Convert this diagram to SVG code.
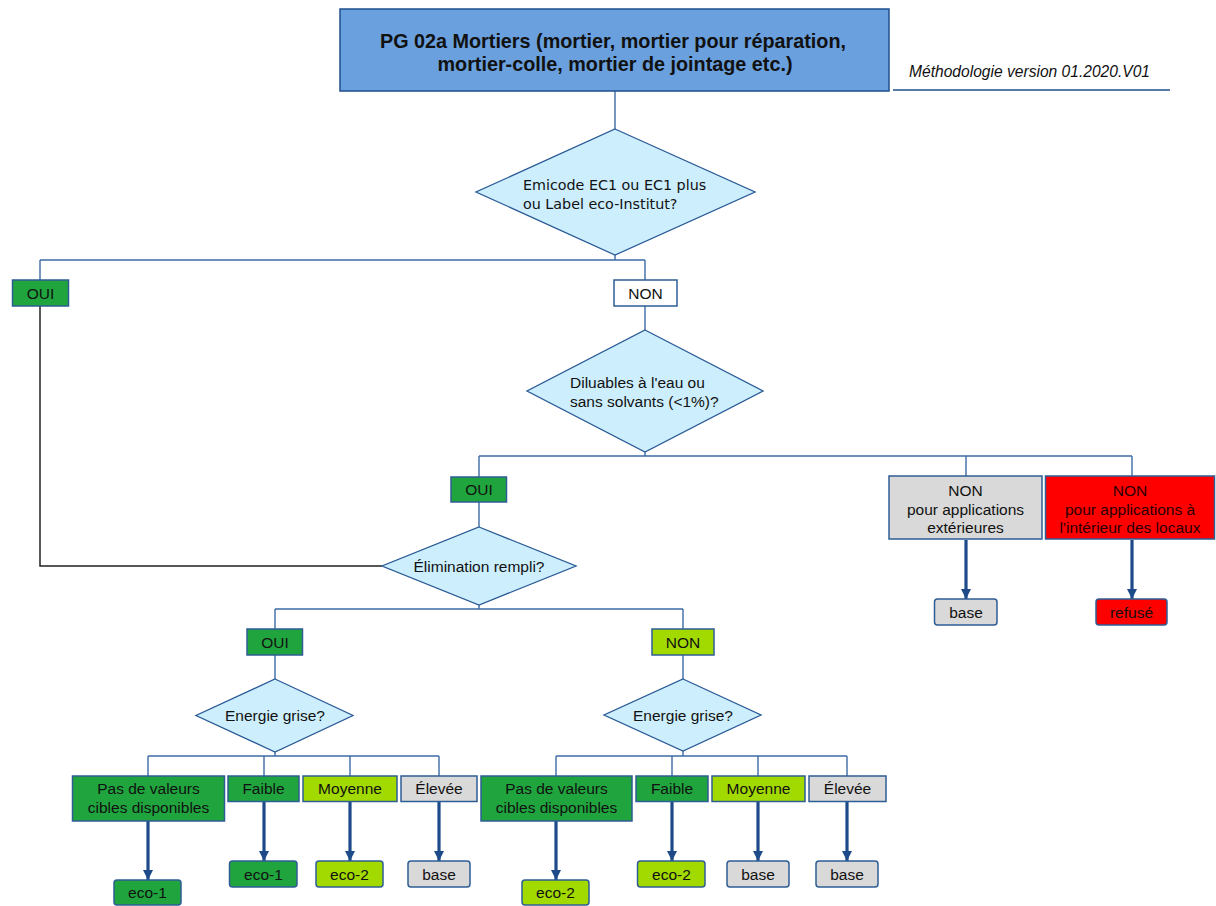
<svg xmlns="http://www.w3.org/2000/svg" width="1216" height="906" viewBox="0 0 1216 906">
<style>
text{font-family:"Liberation Sans",Arial,sans-serif;font-size:15.5px;fill:#111;}
.t{text-anchor:middle;}
.title{font-weight:bold;font-size:19.8px;text-anchor:middle;}
.dia{fill:#cdeefd;stroke:#2a5a96;stroke-width:1.3;}
.box{stroke:#2e5d95;stroke-width:1.5;}
.g{fill:#20a53e;}
.lg{fill:#a2da00;}
.gr{fill:#d9d9d9;}
.rd{fill:#ff0000;}
.wh{fill:#ffffff;}
.c{fill:none;stroke:#3d6ca5;stroke-width:1.4;}
.k{fill:none;stroke:#222;stroke-width:1.5;}
.a{fill:none;stroke:#1d4b8a;stroke-width:3.2;marker-end:url(#ah);}
</style>
<defs>
<marker id="ah" markerUnits="userSpaceOnUse" markerWidth="11" markerHeight="10" viewBox="0 0 10 10" refX="10" refY="5" orient="auto">
<path d="M0,0 L10,5 L0,10 z" fill="#1d4b8a"/>
</marker>
</defs>
<rect width="1216" height="906" fill="#ffffff"/>

<g id="connectors">
<path class="c" d="M615,91 V129"/>
<path class="c" d="M615,255 V260 M40,260 H645 M40,260 V280 M645,260 V280"/>
<path class="c" d="M645,306 V330"/>
<path class="c" d="M645,452 V456 M479,456 H1132 M479,456 V477 M966,456 V476 M1132,456 V476"/>
<path class="c" d="M479,502 V527"/>
<path class="k" d="M40,306 V566 H382"/>
<path class="c" d="M479,605 V609 M275,609 H683 M275,609 V629 M683,609 V629"/>
<path class="c" d="M275,655 V679 M683,655 V679"/>
<path class="c" d="M275,752 V756 M148,756 H439 M148,756 V776 M264,756 V776 M350,756 V776 M439,756 V776"/>
<path class="c" d="M683,751 V756 M556,756 H847 M556,756 V776 M672,756 V776 M758,756 V776 M847,756 V776"/>
<path class="a" d="M966,540 V599"/>
<path class="a" d="M1132,540 V599"/>
<path class="a" d="M148,821 V880"/>
<path class="a" d="M264,801 V861"/>
<path class="a" d="M350,801 V861"/>
<path class="a" d="M439,801 V861"/>
<path class="a" d="M556,821 V880"/>
<path class="a" d="M672,801 V861"/>
<path class="a" d="M758,801 V861"/>
<path class="a" d="M847,801 V861"/>
</g>

<g id="title">
<rect x="340" y="9" width="549" height="82" fill="#6aa0dd" stroke="#1f4f8c" stroke-width="1.5"/>
<text class="title" x="613" y="48">PG 02a Mortiers (mortier, mortier pour réparation,</text>
<text class="title" x="615" y="71">mortier-colle, mortier de jointage etc.)</text>
</g>

<g id="version">
<text x="909" y="77" style="font-style:italic;font-size:15.6px">Méthodologie version 01.2020.V01</text>
<path d="M893,90 H1170" stroke="#1f4f8c" stroke-width="1.3"/>
</g>

<g id="q1">
<polygon class="dia" points="615,129 755,192 615,255 476,192"/>
<text x="523" y="190" style="font-family:'DejaVu Sans',Verdana,sans-serif;font-size:14.3px">Emicode EC1 ou EC1 plus</text>
<text x="523" y="209" style="font-family:'DejaVu Sans',Verdana,sans-serif;font-size:14.3px">ou Label eco-Institut?</text>
</g>

<g id="oui1">
<rect class="box g" x="12.5" y="280" width="56" height="26"/>
<text class="t" x="40.5" y="298.5">OUI</text>
</g>

<g id="non1">
<rect class="box wh" x="614" y="280" width="63" height="26"/>
<text class="t" x="645.5" y="298.5">NON</text>
</g>

<g id="q2">
<polygon class="dia" points="645,330 763,391 645,452 527,391"/>
<text x="570" y="388">Diluables à l'eau ou</text>
<text x="570" y="407">sans solvants (&lt;1%)?</text>
</g>

<g id="oui2">
<rect class="box g" x="451" y="477" width="55.5" height="25"/>
<text class="t" x="479" y="495">OUI</text>
</g>

<g id="non-ext">
<rect class="box gr" x="889" y="476" width="153" height="63"/>
<text class="t" x="965.5" y="495.5">NON</text>
<text class="t" x="965.5" y="514.5">pour applications</text>
<text class="t" x="965.5" y="533">extérieures</text>
</g>

<g id="non-int">
<rect class="box rd" x="1045.5" y="476" width="169" height="63"/>
<text class="t" x="1130" y="495.5" style="fill:#2a0000">NON</text>
<text class="t" x="1130" y="514.5" style="fill:#2a0000">pour applications à</text>
<text class="t" x="1130" y="533" style="fill:#2a0000">l'intérieur des locaux</text>
</g>

<g id="base-ext">
<rect class="box gr" x="934.5" y="599" width="62.5" height="26" rx="3"/>
<text class="t" x="966" y="617.5">base</text>
</g>

<g id="refuse">
<rect class="box rd" x="1096" y="599" width="71" height="26" rx="3"/>
<text class="t" x="1131.5" y="617.5">refusé</text>
</g>

<g id="q3">
<polygon class="dia" points="479,527 576,566 479,605 382,566"/>
<text class="t" x="479" y="571.5">Élimination rempli?</text>
</g>

<g id="oui3">
<rect class="box g" x="247" y="629" width="55.5" height="26"/>
<text class="t" x="275" y="647.5">OUI</text>
</g>

<g id="non3">
<rect class="box lg" x="652" y="629" width="62" height="26"/>
<text class="t" x="683" y="647.5">NON</text>
</g>

<g id="q4">
<polygon class="dia" points="275,679 353,715.5 275,752 196,715.5"/>
<text class="t" x="275" y="721">Energie grise?</text>
</g>

<g id="q5">
<polygon class="dia" points="683,679 761,715 683,751 604,715"/>
<text class="t" x="683" y="720.5">Energie grise?</text>
</g>

<g id="l-pas">
<rect class="box g" x="72.5" y="776" width="152" height="45"/>
<text class="t" x="148.5" y="794">Pas de valeurs</text>
<text class="t" x="148.5" y="812.5">cibles disponibles</text>
</g>
<g id="l-faible">
<rect class="box g" x="228" y="776" width="71" height="25.5"/>
<text class="t" x="263.5" y="794">Faible</text>
</g>
<g id="l-moy">
<rect class="box lg" x="303" y="776" width="94" height="25.5"/>
<text class="t" x="350" y="794">Moyenne</text>
</g>
<g id="l-elev">
<rect class="box gr" x="401" y="776" width="76" height="25.5"/>
<text class="t" x="439" y="794">Élevée</text>
</g>

<g id="r-pas">
<rect class="box g" x="481" y="776" width="151" height="45"/>
<text class="t" x="556.5" y="794">Pas de valeurs</text>
<text class="t" x="556.5" y="812.5">cibles disponibles</text>
</g>
<g id="r-faible">
<rect class="box g" x="636" y="776" width="72" height="25.5"/>
<text class="t" x="672" y="794">Faible</text>
</g>
<g id="r-moy">
<rect class="box lg" x="712" y="776" width="93" height="25.5"/>
<text class="t" x="758.5" y="794">Moyenne</text>
</g>
<g id="r-elev">
<rect class="box gr" x="809" y="776" width="77" height="25.5"/>
<text class="t" x="847.5" y="794">Élevée</text>
</g>

<g id="res-l1">
<rect class="box g" x="114" y="880" width="67" height="25" rx="3"/>
<text class="t" x="147.5" y="898">eco-1</text>
</g>
<g id="res-l2">
<rect class="box g" x="229.5" y="861" width="67.5" height="26" rx="3"/>
<text class="t" x="263.5" y="879.5">eco-1</text>
</g>
<g id="res-l3">
<rect class="box lg" x="316" y="861" width="67" height="26" rx="3"/>
<text class="t" x="349.5" y="879.5">eco-2</text>
</g>
<g id="res-l4">
<rect class="box gr" x="408" y="861" width="62" height="26" rx="3"/>
<text class="t" x="439" y="879.5">base</text>
</g>
<g id="res-r1">
<rect class="box lg" x="522" y="880" width="67" height="25" rx="3"/>
<text class="t" x="555.5" y="898">eco-2</text>
</g>
<g id="res-r2">
<rect class="box lg" x="637.5" y="861" width="67.5" height="26" rx="3"/>
<text class="t" x="671.5" y="879.5">eco-2</text>
</g>
<g id="res-r3">
<rect class="box gr" x="727" y="861" width="62" height="26" rx="3"/>
<text class="t" x="758" y="879.5">base</text>
</g>
<g id="res-r4">
<rect class="box gr" x="816" y="861" width="62" height="26" rx="3"/>
<text class="t" x="847" y="879.5">base</text>
</g>
</svg>
